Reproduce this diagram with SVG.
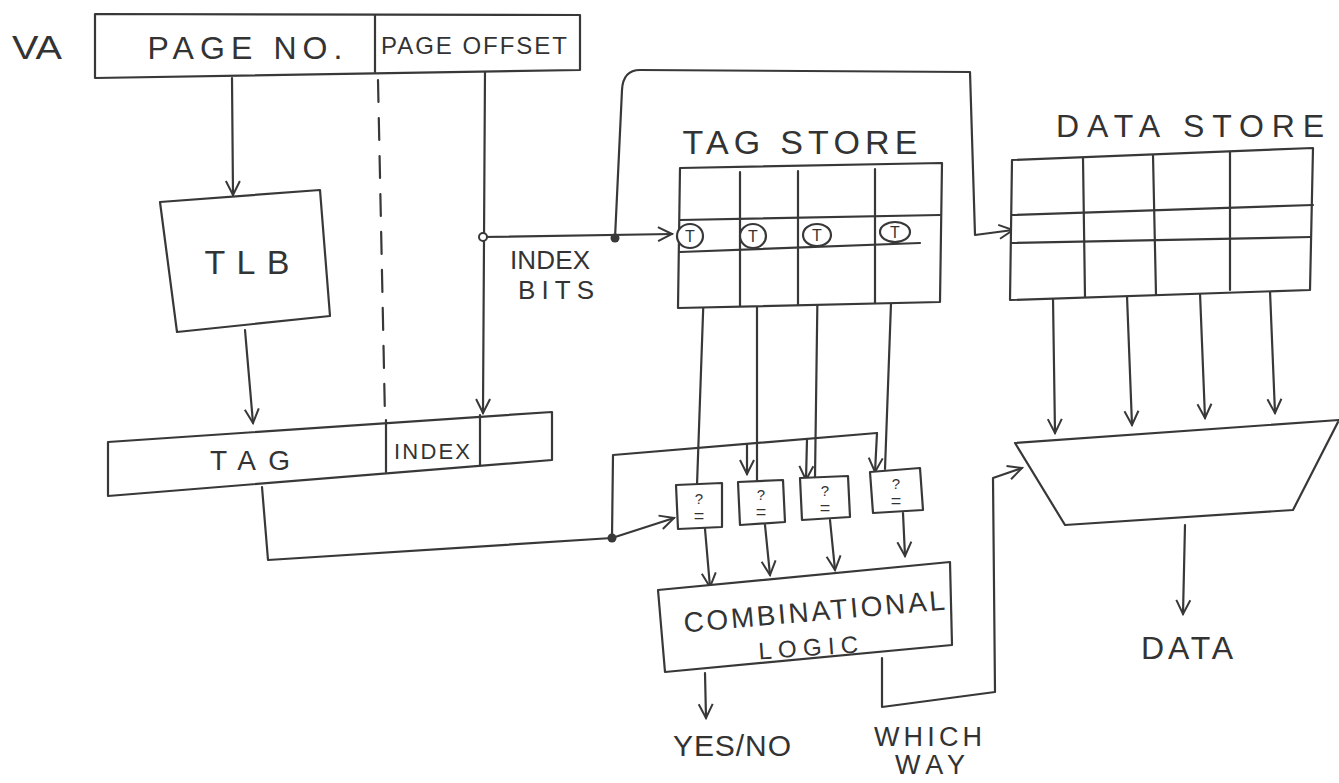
<svg xmlns="http://www.w3.org/2000/svg" width="1339" height="783" viewBox="0 0 1339 783">
<defs>
<marker id="arr" markerUnits="userSpaceOnUse" markerWidth="18" markerHeight="18" viewBox="0 0 18 18" refX="16" refY="9" orient="auto">
<path d="M2,2 L16,9 L2,16" fill="none" stroke="#383838" stroke-width="2"/>
</marker>
</defs>
<style>
.s{fill:none;stroke:#383838;stroke-width:2.2;stroke-linejoin:round;stroke-linecap:round}
.b{fill:#fff;stroke:#383838;stroke-width:2.2;stroke-linejoin:round}
.t{font-family:"Liberation Sans",Arial,sans-serif;fill:#333;text-anchor:middle}
.a{marker-end:url(#arr)}
.d{stroke-dasharray:22 16}
</style>
<rect width="1339" height="783" fill="#fff"/>

<g id="connectors">
<path class="s a" d="M232,78 L233,195"/>
<path class="s d" d="M378,80 L385,418"/>
<path class="s a" d="M485,70 L483,413"/>
<path class="s a" d="M483,237 L672,234"/>
<path class="s a" d="M615,238 L622,90 Q623,70 640,70 L970,72 L975,235 L1013,230"/>
<path class="s a" d="M245,330 L253,423"/>
<path class="s" d="M262,487 L268,560 L612,538"/>
<path class="s a" d="M612,538 L674,518"/>
<path class="s" d="M612,538 L613,455 L877,433"/>
<path class="s a" d="M747,444 L747,474"/>
<path class="s a" d="M807,439 L806,480"/>
<path class="s a" d="M877,433 L875,472"/>
<path class="s" d="M705,257 L697,485"/>
<path class="s" d="M757,257 L757,481"/>
<path class="s" d="M818,257 L815,477"/>
<path class="s" d="M893,248 L885,469"/>
<path class="s a" d="M705,529 L710,587"/>
<path class="s a" d="M765,525 L770,575"/>
<path class="s a" d="M830,520 L835,570"/>
<path class="s a" d="M903,513 L905,556"/>
<path class="s a" d="M705,673 L706,718"/>
<path class="s a" d="M882,658 L882,707 L995,692 L993,478 L1022,468"/>
<path class="s a" d="M1053,298 L1055,433"/>
<path class="s a" d="M1127,296 L1132,425"/>
<path class="s a" d="M1200,293 L1205,418"/>
<path class="s a" d="M1270,291 L1275,413"/>
<path class="s a" d="M1185,525 L1183,614"/>
<circle cx="483" cy="237" r="4" fill="#fff" stroke="#383838" stroke-width="2"/>
<circle cx="615" cy="238" r="4.5" fill="#383838"/>
<circle cx="612" cy="538" r="4.5" fill="#383838"/>
</g>

<g id="va">
<text class="t" x="37" y="59" font-size="34" textLength="50" lengthAdjust="spacingAndGlyphs">VA</text>
<path class="b" d="M95,14 L580,15 L580,70 L95,78 Z"/>
<path class="s" d="M375,15 L375,72"/>
<text class="t" x="245" y="59" font-size="32" textLength="195" lengthAdjust="spacing">PAGE NO.</text>
<text class="t" x="474" y="54" font-size="24" textLength="186" lengthAdjust="spacing">PAGE OFFSET</text>
</g>

<g id="tlb">
<path class="b" d="M160,202 L320,190 L330,316 L177,332 Z"/>
<text class="t" x="247" y="274" font-size="34" textLength="85" lengthAdjust="spacing">TLB</text>
</g>

<g id="tagindex">
<path class="b" d="M108,442 L552,412 L552,460 L108,496 Z"/>
<path class="s" d="M386,420 L386,472"/>
<path class="s" d="M480,415 L480,465"/>
<text class="t" x="250" y="470" font-size="28" textLength="80" lengthAdjust="spacing">TAG</text>
<text class="t" x="432" y="459" font-size="22" textLength="76" lengthAdjust="spacing">INDEX</text>
</g>

<g id="indexbits">
<text class="t" x="550" y="269" font-size="26" textLength="80" lengthAdjust="spacing">INDEX</text>
<text class="t" x="556" y="299" font-size="26" textLength="76" lengthAdjust="spacing">BITS</text>
</g>

<g id="tagstore">
<text class="t" x="800" y="154" font-size="34" textLength="235" lengthAdjust="spacing">TAG STORE</text>
<path class="b" d="M680,168 L942,163 L940,302 L678,308 Z"/>
<path class="s" d="M740,172 L740,306 M798,171 L798,305 M875,169 L875,303"/>
<path class="s" d="M680,220 L940,215 M680,252 L920,243"/>
<g class="b">
<ellipse cx="690" cy="236" rx="13" ry="12"/>
<ellipse cx="753" cy="236" rx="13" ry="12"/>
<ellipse cx="817" cy="235" rx="14" ry="11"/>
<ellipse cx="895" cy="232" rx="15" ry="10"/>
</g>
<text class="t" x="690" y="242" font-size="16">T</text>
<text class="t" x="753" y="242" font-size="16">T</text>
<text class="t" x="817" y="241" font-size="16">T</text>
<text class="t" x="895" y="238" font-size="16">T</text>
</g>

<g id="datastore">
<text class="t" x="1190" y="137" font-size="32" textLength="268" lengthAdjust="spacing">DATA STORE</text>
<path class="b" d="M1012,160 L1313,148 L1310,290 L1010,300 Z"/>
<path class="s" d="M1012,215 L1313,205 M1012,243 L1311,237"/>
<path class="s" d="M1083,158 L1085,297 M1153,155 L1156,295 M1230,152 L1230,290"/>
</g>

<g id="cmp1">
<path class="b" d="M676,485 L722,483 L722,527 L678,529 Z"/>
<text class="t" x="699" y="504" font-size="15">?</text>
<text class="t" x="699" y="522" font-size="18">=</text>
</g>
<g id="cmp2">
<path class="b" d="M738,482 L783,480 L785,522 L740,525 Z"/>
<text class="t" x="761" y="500" font-size="15">?</text>
<text class="t" x="761" y="518" font-size="18">=</text>
</g>
<g id="cmp3">
<path class="b" d="M800,478 L848,476 L850,517 L802,520 Z"/>
<text class="t" x="825" y="496" font-size="15">?</text>
<text class="t" x="825" y="514" font-size="18">=</text>
</g>
<g id="cmp4">
<path class="b" d="M870,472 L920,468 L923,510 L873,513 Z"/>
<text class="t" x="896" y="489" font-size="15">?</text>
<text class="t" x="896" y="507" font-size="18">=</text>
</g>

<g id="comblogic">
<path class="b" d="M658,590 L950,562 L952,645 L665,672 Z"/>
<text class="t" x="814" y="621" font-size="28" textLength="262" lengthAdjust="spacing" transform="rotate(-5 814 610)">COMBINATIONAL</text>
<text class="t" x="808" y="656" font-size="24" textLength="100" lengthAdjust="spacing" transform="rotate(-4 808 645)">LOGIC</text>
</g>

<g id="mux">
<path class="b" d="M1015,443 L1339,420 L1293,510 L1065,525 Z"/>
</g>

<g id="labels">
<text class="t" x="732" y="756" font-size="30" textLength="118" lengthAdjust="spacing">YES/NO</text>
<text class="t" x="928" y="746" font-size="27" textLength="108" lengthAdjust="spacing">WHICH</text>
<text class="t" x="930" y="774" font-size="27" textLength="70" lengthAdjust="spacing">WAY</text>
<text class="t" x="1187" y="659" font-size="32" textLength="92" lengthAdjust="spacing">DATA</text>
</g>
</svg>
